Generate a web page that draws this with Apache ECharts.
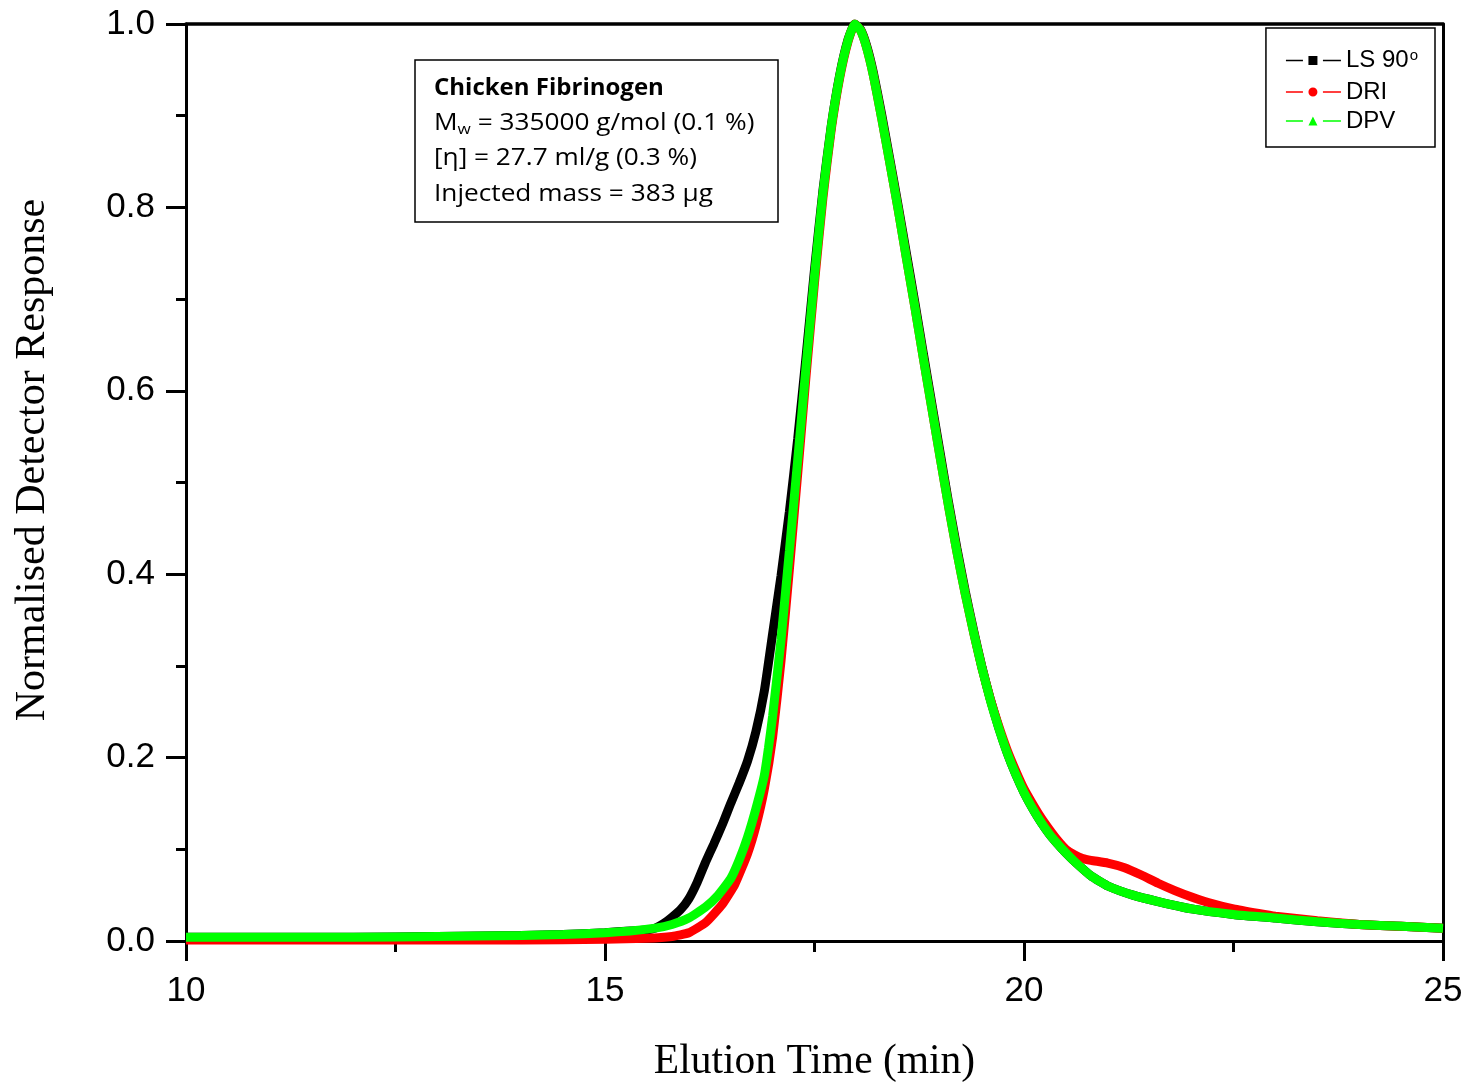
<!DOCTYPE html>
<html>
<head>
<meta charset="utf-8">
<style>
html,body{margin:0;padding:0;background:#fff;overflow:hidden;}
#chart{width:1469px;height:1088px;}
</style>
<script src="https://cdn.jsdelivr.net/npm/echarts@6/dist/echarts.min.js"></script>
</head>
<body>
<div id="chart"></div>
<script>
// ---- data (elution time in min, normalised response) ----
const seriesNames = ['LS 90', 'DRI', 'DPV'];
const xTicks = [10, 15, 20, 25];
const yTicks = [0.0, 0.2, 0.4, 0.6, 0.8, 1.0];

const dpvX = [10.0, 11.0, 12.0, 13.0, 14.0, 14.5, 15.0, 15.3, 15.6, 15.8, 16.0, 16.2, 16.35, 16.5, 16.6, 16.7, 16.8, 16.9, 16.95, 17.0, 17.1, 17.2, 17.3, 17.4, 17.5, 17.6, 17.7, 17.8, 17.9, 17.98, 18.05, 18.12, 18.2, 18.3, 18.4, 18.5, 18.6, 18.7, 18.8, 18.9, 19.0, 19.1, 19.2, 19.3, 19.4, 19.5, 19.6, 19.7, 19.8, 19.9, 20.0, 20.1, 20.2, 20.3, 20.4, 20.5, 20.6, 20.8, 21.0, 21.3, 21.6, 22.0, 22.5, 23.0, 23.5, 24.0, 24.5, 25.0];
const dpvY = [0.004, 0.004, 0.004, 0.005, 0.006, 0.007, 0.009, 0.011, 0.014, 0.018, 0.025, 0.037, 0.05, 0.068, 0.088, 0.113, 0.144, 0.18, 0.21, 0.245, 0.328, 0.425, 0.525, 0.627, 0.725, 0.815, 0.888, 0.943, 0.982, 1.0, 0.993, 0.975, 0.945, 0.898, 0.848, 0.797, 0.743, 0.69, 0.635, 0.581, 0.527, 0.474, 0.424, 0.378, 0.336, 0.297, 0.262, 0.232, 0.205, 0.182, 0.162, 0.145, 0.13, 0.117, 0.106, 0.096, 0.087, 0.071, 0.06, 0.05, 0.043, 0.035, 0.029, 0.025, 0.021, 0.018, 0.016, 0.014];

const lsX = [10.0, 11.0, 12.0, 13.0, 14.0, 14.5, 15.0, 15.3, 15.5, 15.6, 15.7, 15.8, 15.9, 16.0, 16.1, 16.2, 16.3, 16.4, 16.5, 16.6, 16.7, 16.8, 16.9, 17.0, 17.1, 17.2, 17.3, 17.4, 17.5, 17.6, 17.7, 17.8, 17.9, 17.98, 18.05, 18.12, 18.2, 18.3, 18.4, 18.5, 18.6, 18.7, 18.8, 18.9, 19.0, 19.1, 19.2, 19.3, 19.4, 19.5, 19.6, 19.7, 19.8, 19.9, 20.0, 20.1, 20.2, 20.3, 20.4, 20.5, 20.6, 20.8, 21.0, 21.3, 21.6, 22.0, 22.5, 23.0, 23.5, 24.0, 24.5, 25.0];
const lsY = [0.004, 0.004, 0.004, 0.005, 0.006, 0.007, 0.009, 0.011, 0.012, 0.014, 0.019, 0.026, 0.034, 0.046, 0.064, 0.086, 0.106, 0.127, 0.15, 0.172, 0.196, 0.228, 0.272, 0.335, 0.398, 0.468, 0.548, 0.638, 0.732, 0.818, 0.889, 0.944, 0.983, 1.0, 0.994, 0.977, 0.948, 0.902, 0.852, 0.801, 0.748, 0.695, 0.64, 0.586, 0.532, 0.478, 0.428, 0.381, 0.338, 0.298, 0.263, 0.232, 0.205, 0.182, 0.162, 0.145, 0.13, 0.117, 0.106, 0.096, 0.087, 0.071, 0.06, 0.05, 0.043, 0.035, 0.029, 0.025, 0.021, 0.018, 0.016, 0.014];

const driX = [10.0, 12.0, 14.0, 15.0, 15.5, 15.8, 16.0, 16.2, 16.4, 16.55, 16.7, 16.8, 16.9, 17.0, 17.1, 17.2, 17.3, 17.4, 17.5, 17.6, 17.7, 17.8, 17.9, 17.98, 18.05, 18.12, 18.2, 18.3, 18.4, 18.5, 18.6, 18.7, 18.8, 18.9, 19.0, 19.1, 19.2, 19.3, 19.4, 19.5, 19.6, 19.7, 19.8, 19.9, 20.0, 20.1, 20.2, 20.3, 20.4, 20.5, 20.6, 20.7, 20.8, 21.0, 21.2, 21.4, 21.6, 21.8, 22.0, 22.2, 22.5, 22.8, 23.0, 23.5, 24.0, 24.5, 25.0];
const driY = [0.001, 0.001, 0.001, 0.002, 0.003, 0.005, 0.009, 0.02, 0.04, 0.062, 0.095, 0.125, 0.165, 0.222, 0.305, 0.405, 0.51, 0.617, 0.718, 0.81, 0.885, 0.941, 0.981, 1.0, 0.993, 0.975, 0.945, 0.898, 0.848, 0.797, 0.743, 0.69, 0.635, 0.581, 0.527, 0.474, 0.424, 0.378, 0.336, 0.297, 0.263, 0.234, 0.208, 0.186, 0.166, 0.15, 0.135, 0.122, 0.11, 0.1, 0.094, 0.09, 0.088, 0.085, 0.08, 0.072, 0.063, 0.055, 0.048, 0.042, 0.035, 0.03, 0.027, 0.022, 0.018, 0.016, 0.014];

function pairs(xs, ys) { return xs.map((x, i) => [x, ys[i]]); }

const chart = echarts.init(document.getElementById('chart'), null, {renderer: 'canvas'});

const axisLineStyle = {color: '#000', width: 3};
const sans = 'Liberation Sans, Arial, sans-serif';
const serif = 'Liberation Serif, Times New Roman, serif';
const boxFont = 'Open Sans, Lato, sans-serif';

// legend icons: line - marker - line (with gaps), 55 x 9 box
const lineParts = 'M0,3.8H17V5.2H0Z M37,3.8H55V5.2H37Z ';
const legendIcons = [
  'path://' + lineParts + 'M22.5,0H31.5V9H22.5Z',
  'path://' + lineParts + 'M22.5,4.5A4.5,4.5 0 1,0 31.5,4.5A4.5,4.5 0 1,0 22.5,4.5Z',
  'path://' + lineParts + 'M27,0L31.5,9L22.5,9Z'
];

const option = {
  backgroundColor: '#fff',
  animation: false,
  grid: {left: 186, right: 26, top: 24, bottom: 142, containLabel: false},
  legend: {
    show: true,
    right: 34,
    top: 28,
    orient: 'vertical',
    data: seriesNames.map((n, i) => ({name: n, icon: legendIcons[i]})),
    itemWidth: 55,
    itemHeight: 9,
    itemGap: 5,
    padding: [20, 17, 14, 20],
    borderColor: '#000',
    borderWidth: 1.5,
    borderRadius: 0,
    itemStyle: {borderWidth: 0},
    formatter: function (name) {
      if (name === 'LS 90') return '{n|LS 90}{s|o}';
      return '{n|' + name + '}';
    },
    textStyle: {
      fontFamily: sans, fontSize: 24, color: '#000',
      rich: {
        n: {fontFamily: sans, fontSize: 24, color: '#000', lineHeight: 25},
        s: {fontFamily: sans, fontSize: 15, color: '#000', verticalAlign: 'top', lineHeight: 25, padding: [0, 0, 12, 1]}
      }
    }
  },
  xAxis: [{
    type: 'value', min: 10, max: 25, interval: 5,
    position: 'bottom',
    axisLine: {show: true, lineStyle: axisLineStyle},
    axisTick: {show: true, inside: false, length: 20, lineStyle: {color: '#000', width: 3}},
    minorTick: {show: true, splitNumber: 2, length: 11, lineStyle: {color: '#000', width: 3}},
    splitLine: {show: false},
    axisLabel: {
      margin: 33, color: '#000', fontSize: 35, fontFamily: sans,
      formatter: v => String(v)
    },
    name: 'Elution Time (min)', nameLocation: 'middle', nameGap: 100,
    nameTextStyle: {fontFamily: serif, fontSize: 41.5, color: '#000'}
  }, {
    type: 'value', min: 10, max: 25, interval: 5, position: 'top',
    axisLine: {show: true, onZero: false, lineStyle: {color: '#000', width: 3.5}},
    axisTick: {show: false}, axisLabel: {show: false}, splitLine: {show: false}
  }],
  yAxis: [{
    type: 'value', min: 0, max: 1, interval: 0.2,
    position: 'left',
    axisLine: {show: true, onZero: false, lineStyle: axisLineStyle},
    axisTick: {show: true, inside: false, length: 20, lineStyle: {color: '#000', width: 3}},
    minorTick: {show: true, splitNumber: 2, length: 10, lineStyle: {color: '#000', width: 3}},
    splitLine: {show: false},
    axisLabel: {
      margin: 31, color: '#000', fontSize: 35, fontFamily: sans,
      formatter: v => v.toFixed(1)
    }
  }, {
    type: 'value', min: 0, max: 1, interval: 0.2, position: 'right',
    axisLine: {show: true, onZero: false, lineStyle: {color: '#000', width: 3}},
    axisTick: {show: false}, axisLabel: {show: false}, splitLine: {show: false}
  }],
  series: [{
    name: 'LS 90', type: 'line', xAxisIndex: 0, yAxisIndex: 0,
    data: pairs(lsX, lsY), smooth: 0.15, symbol: 'rect', symbolSize: 9, showSymbol: false,
    lineStyle: {color: '#000', width: 9}, itemStyle: {color: '#000'}, z: 2
  }, {
    name: 'DRI', type: 'line', xAxisIndex: 0, yAxisIndex: 0,
    data: pairs(driX, driY), smooth: 0.15, symbol: 'circle', symbolSize: 9, showSymbol: false,
    lineStyle: {color: '#ff0000', width: 9}, itemStyle: {color: '#ff0000'}, z: 3
  }, {
    name: 'DPV', type: 'line', xAxisIndex: 0, yAxisIndex: 0,
    data: pairs(dpvX, dpvY), smooth: 0.15, symbol: 'triangle', symbolSize: 10, showSymbol: false,
    lineStyle: {color: '#00ff00', width: 9}, itemStyle: {color: '#00ff00'}, z: 4
  }],
  graphic: [{
    type: 'text', x: 33, y: 460, rotation: Math.PI / 2, z: 100,
    style: {text: 'Normalised Detector Response', fontFamily: serif, fontSize: 42, fill: '#000', align: 'center', verticalAlign: 'middle'}
  }, {
    type: 'group', x: 415, y: 60, z: 100,
    children: [{
      type: 'rect', shape: {x: 0, y: 0, width: 363, height: 162},
      style: {fill: '#fff', stroke: '#000', lineWidth: 1.5}
    }, {
      type: 'text', x: 19, y: 28,
      style: {text: 'Chicken Fibrinogen', fontFamily: boxFont, fontWeight: 'bold', fontSize: 24, fill: '#000', verticalAlign: 'middle'}
    }, {
      type: 'text', x: 19, y: 63, scaleX: 1.14,
      style: {
        text: '{a|M}{b|w}{a| = 335000 g/mol (0.1 %)}',
        verticalAlign: 'middle',
        rich: {
          a: {fontFamily: boxFont, fontSize: 23, fill: '#000', lineHeight: 30},
          b: {fontFamily: boxFont, fontSize: 15, fill: '#000', lineHeight: 30, padding: [14, 0, 0, 0]}
        }
      }
    }, {
      type: 'text', x: 19, y: 98, scaleX: 1.14,
      style: {text: '[η] = 27.7 ml/g (0.3 %)', fontFamily: boxFont, fontSize: 23, fill: '#000', verticalAlign: 'middle'}
    }, {
      type: 'text', x: 19, y: 134, scaleX: 1.14,
      style: {text: 'Injected mass = 383 μg', fontFamily: boxFont, fontSize: 23, fill: '#000', verticalAlign: 'middle'}
    }]
  }]
};

chart.setOption(option);
</script>
</body>
</html>
